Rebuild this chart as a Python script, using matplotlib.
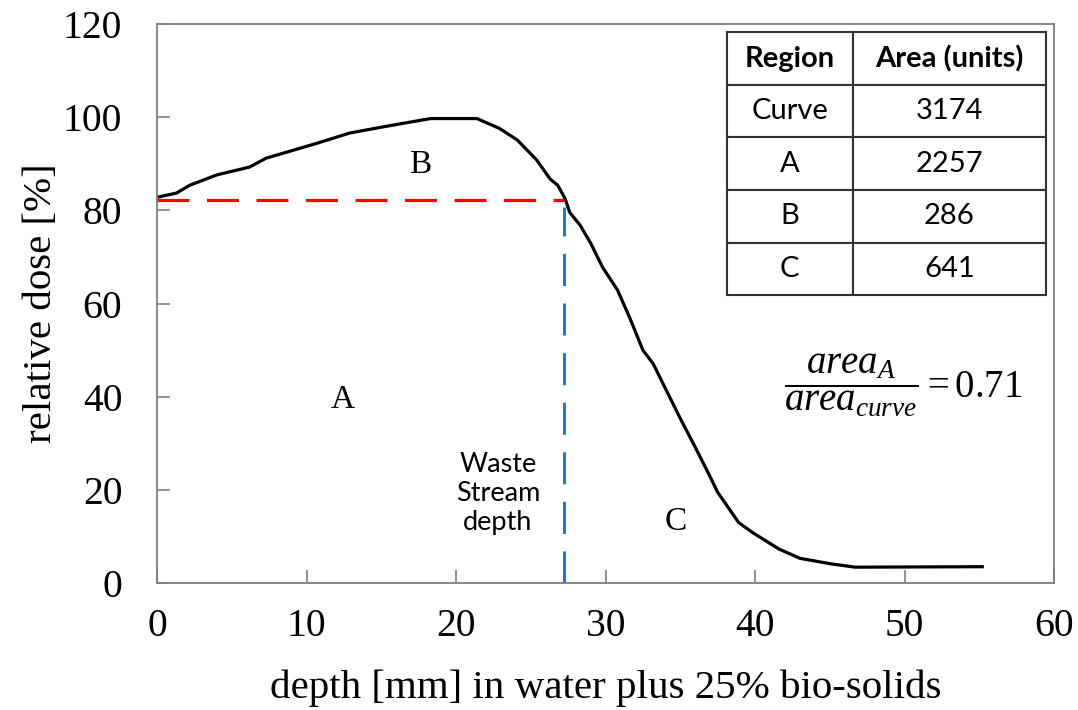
import matplotlib
matplotlib.use("Agg")
import matplotlib.pyplot as plt

# depth-dose curve
depth = [0, 1.3, 2.2, 4.0, 6.2, 7.3, 8.9, 10.7, 12.9, 15.1, 16.5, 18.3, 21.4,
         22.9, 24.1, 25.4, 26.3, 26.8, 27.3, 27.6, 28.3, 29.0, 29.8, 30.8,
         31.6, 32.5, 33.2, 34.2, 35.1, 35.9, 37.0, 37.5, 38.9, 39.8, 41.6,
         43.0, 45.1, 46.7, 55.2]
dose = [82.8, 83.7, 85.4, 87.6, 89.3, 91.2, 92.7, 94.4, 96.6, 97.9, 98.7,
        99.7, 99.7, 97.6, 95.1, 90.8, 86.7, 85.4, 82.5, 79.6, 76.8, 73.0,
        67.8, 62.9, 57.1, 50.0, 47.0, 40.5, 34.7, 29.8, 22.8, 19.5, 13.0,
        10.9, 7.3, 5.3, 4.1, 3.4, 3.5]

ws_depth = 27.2
ws_dose = 82.3

regions = ["Curve", "A", "B", "C"]
areas = [3174, 2257, 286, 641]
ratio = 0.71

serif = "Liberation Serif"
sans = "Lato"
plt.rcParams["mathtext.fontset"] = "custom"
plt.rcParams["mathtext.rm"] = serif
plt.rcParams["mathtext.it"] = serif + ":italic"

fig = plt.figure(figsize=(10.78, 7.10), dpi=100)
ax = fig.add_axes([157 / 1078, 127 / 710, 897 / 1078, 559 / 710])

ax.plot(depth, dose, color="black", lw=2.3, solid_joinstyle="round")
ax.plot([0, ws_depth], [ws_dose, ws_dose], color="#ff0000", lw=2.3,
        dashes=(10, 5.5), clip_on=False)
ax.plot([ws_depth, ws_depth], [0, ws_dose - 1.6], color="#1478cc", lw=2.1,
        dashes=(11, 6))

ax.set_xlim(0, 60)
ax.set_ylim(0, 120)
ax.set_xticks(range(0, 61, 10))
ax.set_yticks(range(0, 121, 20))

grey = "#7f7f7f"
for s in ax.spines.values():
    s.set_color(grey)
    s.set_linewidth(1.3)
ax.tick_params(direction="in", length=9.5, width=1.2, color=grey,
               labelsize=28.5, labelcolor="black")
ax.tick_params(axis="x", pad=18)
ax.tick_params(axis="y", pad=25)
for lab in ax.get_xticklabels() + ax.get_yticklabels():
    lab.set_fontfamily(serif)

ax.set_xlabel("depth [mm] in water plus 25% bio-solids", fontsize=29.5,
              family=serif)
ax.set_ylabel("relative dose [%]", fontsize=29.5, family=serif)
ax.xaxis.set_label_coords(0.5, -0.155)
ax.yaxis.set_label_coords(-0.108, 0.5)

# region letters
ax.text(17.6, 89.7, "B", fontsize=24, family=serif, ha="center", va="center")
ax.text(12.4, 39.3, "A", fontsize=24, family=serif, ha="center", va="center")
ax.text(34.7, 13.1, "C", fontsize=24, family=serif, ha="center", va="center")
ax.text(22.8, 19.3, "Waste\nStream\ndepth", fontsize=19.5, family=sans,
        ha="center", va="center", linespacing=1.2)

ax.text(49.9, 42.5, r"$\dfrac{area_A}{area_{curve}} = %.2f$" % ratio,
        fontsize=28, ha="center", va="center")

# area table
cells = [[r, str(a)] for r, a in zip(regions, areas)]
tab = ax.table(cellText=cells, colLabels=["Region", "Area (units)"],
               cellLoc="center", colWidths=[0.395, 0.605],
               bbox=[0.635, 0.515, 0.356, 0.47])
tab.auto_set_font_size(False)
for (r, c), cell in tab.get_celld().items():
    cell.set_edgecolor("#333333")
    cell.set_linewidth(1.5)
    t = cell.get_text()
    t.set_fontfamily(sans)
    t.set_fontsize(21)
    if r == 0:
        t.set_fontweight("bold")

fig.savefig("out.png", dpi=100)
